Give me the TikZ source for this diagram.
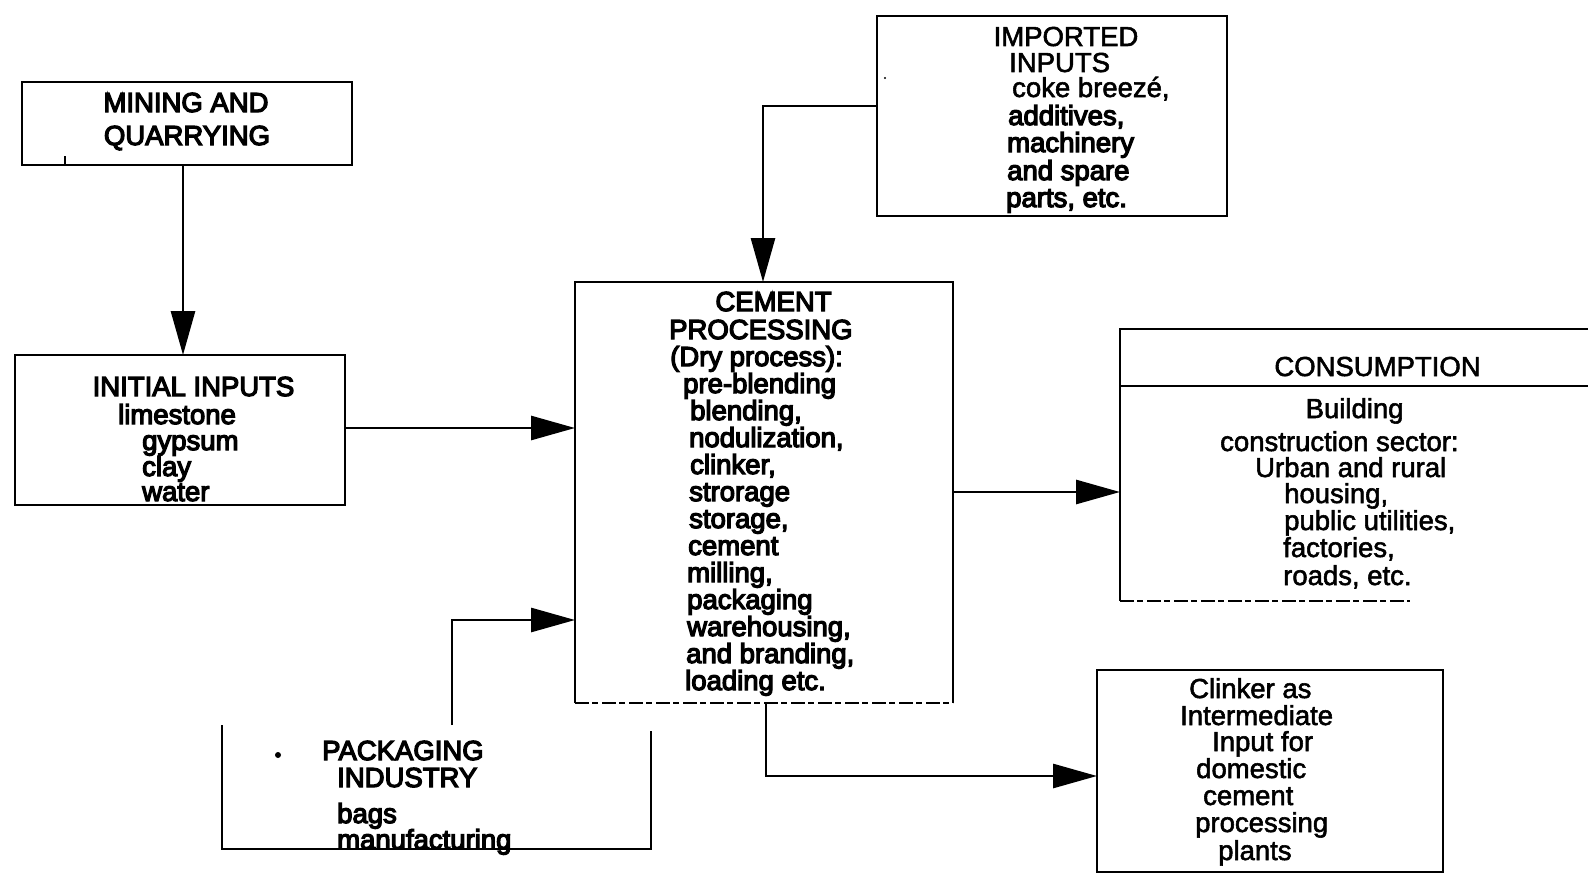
\documentclass[tikz,border=0pt]{standalone}
\usepackage{fontspec}
\setmainfont{Liberation Sans}
\newfontfamily\heavyf[FakeBold=4.5]{Liberation Sans}
\newfontfamily\lightf[FakeBold=2]{Liberation Sans}
\usetikzlibrary{arrows.meta,calc}
\newcommand\fsz{\fontsize{27.5}{30}\selectfont}
\begin{document}
\begin{tikzpicture}[x=1pt,y=-1pt,
  box/.style={inner sep=0pt, outer sep=0pt},
  edge/.style={line width=2.8pt},
  brk/.style={line width=2pt, dash pattern=on 14pt off 3pt on 6pt off 4pt},
  arr/.style={line width=2.8pt, -{Triangle[length=44pt,width=24pt]}},
  T/.style={anchor=base west, inner sep=0pt, font=\heavyf\fsz},
  C/.style={anchor=base, inner sep=0pt, font=\heavyf\fsz},
  Tl/.style={anchor=base west, inner sep=0pt, font=\lightf\fsz},
  Cl/.style={anchor=base, inner sep=0pt, font=\lightf\fsz}]
\fill[white] (0,0) rectangle (1588,875);
\useasboundingbox (0,0) rectangle (1588,875);

% boxes
\node[box, draw, edge, minimum width=330pt, minimum height=83pt] (mining) at (187,123.5) {};
\node[box, draw, edge, minimum width=330pt, minimum height=150pt] (initial) at (180,430) {};
\node[box, minimum width=378pt, minimum height=421pt] (cement) at (764,492.5) {};
\node[box, draw, edge, minimum width=350pt, minimum height=200pt] (imported) at (1052,116) {};
\node[box, minimum width=468pt, minimum height=272pt] (cons) at (1354,465) {};
\node[box, draw, edge, minimum width=346pt, minimum height=202pt] (clinker) at (1270,771) {};
\node[box, minimum width=429pt, minimum height=124pt] (pack) at (436.5,787) {};

\draw[edge] (cement.south west) -- (cement.north west) -- (cement.north east) -- (cement.south east);
\draw[brk] (cement.south west) -- (cement.south east);
\draw[edge] (cons.north east) -- (cons.north west) -- (cons.south west);
\coordinate (yf) at (0,386);
\draw[edge] (cons.west |- yf) -- (cons.east |- yf);
\coordinate (xg) at (1410,0);
\draw[brk] (cons.south west) -- (cons.south -| xg);
\draw[edge] (pack.north west) -- (pack.south west) -- (pack.south east) -- ([yshift=-6pt]pack.north east);

% small marks
\coordinate (tk) at (65,156);
\draw[line width=1.5pt] (tk) -- (mining.south -| tk);
\fill (885,78) circle (1.2pt);
\fill (278,755) circle (3pt);

% connectors
\coordinate (xa) at (183,0);
\draw[arr] (mining.south -| xa) -- (initial.north -| xa);
\coordinate (ya) at (0,428);
\draw[arr] (initial.east |- ya) -- (cement.west |- ya);
\coordinate (yb) at (0,106);
\coordinate (xb) at (763,0);
\draw[arr] (imported.west |- yb) -| (cement.north -| xb);
\coordinate (yc) at (0,492);
\draw[arr] (cement.east |- yc) -- (cons.west |- yc);
\coordinate (xd) at (452,0);
\coordinate (yd) at (0,620);
\draw[arr] (pack.north -| xd) |- (cement.west |- yd);
\coordinate (xe) at (766,0);
\coordinate (ye) at (0,776);
\draw[arr] (cement.south -| xe) |- (clinker.west |- ye);

% mining text
\node[C] (m1) at (186,112) {MINING AND};
\node[C] (m2) at (187,145) {QUARRYING};
% initial text
\node[C] (i1) at (193.5,396) {INITIAL INPUTS};
\node[T] (i2) at (118,424) {limestone};
\node[T] (i3) at (142,450) {gypsum};
\node[T] (i4) at (142,476) {clay};
\node[T] (i5) at (142,501) {water};
% cement text
\node[C] (c1) at (773.5,311) {CEMENT};
\node[T] (c2) at (669,339) {PROCESSING};
\node[T] (c3) at (670,366) {(Dry process):};
\node[T] (c4) at (683,393) {pre-blending};
\node[T] (c5) at (690,420) {blending,};
\node[T] (c6) at (689,447) {nodulization,};
\node[T] (c7) at (690,474) {clinker,};
\node[T] (c8) at (689,501) {strorage};
\node[T] (c9) at (689,528) {storage,};
\node[T] (c10) at (688,555) {cement};
\node[T] (c11) at (687,582) {milling,};
\node[T] (c12) at (687,609) {packaging};
\node[T] (c13) at (687,636) {warehousing,};
\node[T] (c14) at (686,663) {and branding,};
\node[T] (c15) at (685,690) {loading etc.};
% imported text
\node[Cl] (p1) at (1066,46) {IMPORTED};
\node[Tl] (p2) at (1009,72) {INPUTS};
\node[Tl] (p3) at (1012,97) {coke breez\'e,};
\node[T] (p4) at (1008,125) {additives,};
\node[T] (p5) at (1007,152) {machinery};
\node[T] (p6) at (1007,180) {and spare};
\node[T] (p7) at (1006,207) {parts, etc.};
% consumption text
\node[Cl] (s1) at (1377.5,376) {CONSUMPTION};
\node[Cl] (s2) at (1354.6,418) {Building};
\node[Tl] (s3) at (1220,451) {construction sector:};
\node[Tl] (s4) at (1255,477) {Urban and rural};
\node[Tl] (s5) at (1284,503) {housing,};
\node[Tl] (s6) at (1284,530) {public utilities,};
\node[Tl] (s7) at (1283,557) {factories,};
\node[Tl] (s8) at (1283,585) {roads, etc.};
% clinker text
\node[Tl] (k1) at (1189,698) {Clinker as};
\node[Tl] (k2) at (1180,725) {Intermediate};
\node[Tl] (k3) at (1212,751) {Input for};
\node[Tl] (k4) at (1196,778) {domestic};
\node[Tl] (k5) at (1203,805) {cement};
\node[Tl] (k6) at (1195,832) {processing};
\node[Tl] (k7) at (1218,860) {plants};
% packaging text
\node[T] (g1) at (322,760) {PACKAGING};
\node[T] (g2) at (337,787) {INDUSTRY};
\node[T] (g3) at (337,823) {bags};
\node[T] (g4) at (337,849) {manufacturing};
\end{tikzpicture}
\end{document}
